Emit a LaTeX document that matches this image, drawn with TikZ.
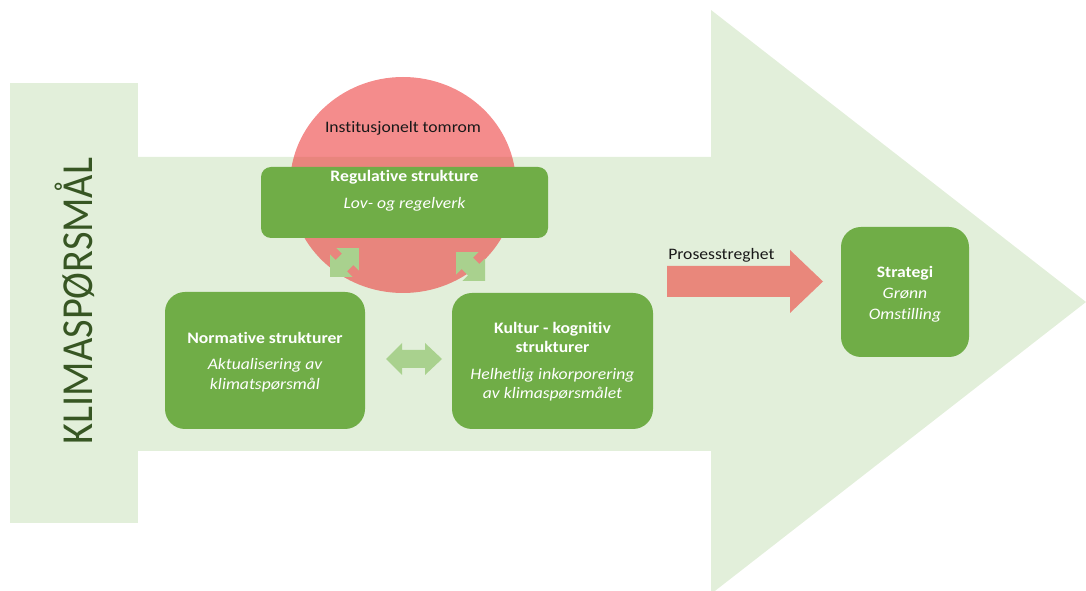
\documentclass[tikz,border=0pt]{standalone}
\usepackage{fontspec}
\setmainfont{Carlito}[FakeStretch=1.1, Ligatures=NoCommon]
\newfontfamily\klimafont{Carlito}
\definecolor{bandgreen}{HTML}{E2EFDA}
\definecolor{boxgreen}{HTML}{70AD47}
\definecolor{lightarrow}{HTML}{A9D18E}
\definecolor{circred}{RGB}{237,63,63}
\definecolor{darkgreen}{HTML}{375623}
\definecolor{salmon}{HTML}{E9877B}
\tikzset{
  gbox/.style={fill=boxgreen, draw=none, rectangle, inner sep=0pt},
  wtext/.style={text=white, align=center, font=\fontsize{12}{14.5}\selectfont, inner sep=0pt},
  btext/.style={text=black!90, font=\fontsize{12}{14.5}\selectfont, inner sep=0pt},
  lgarrow/.style={fill=lightarrow, draw=none},
}
\newcommand{\dblarrowshape}{(-20.5,0) -- (-4.5,-16) -- (-4.5,-8) -- (4.5,-8) -- (4.5,-16) -- (20.5,0) -- (4.5,16) -- (4.5,8) -- (-4.5,8) -- (-4.5,16) -- cycle}
\begin{document}
\begin{tikzpicture}[x=0.75pt,y=-0.75pt]
\useasboundingbox (0,0) rectangle (1086,591);
\begin{scope}
\clip (0,0) rectangle (1086,591);
% big arrow and left bar
\fill[bandgreen] (138,157) -- (711,157) -- (711,10) -- (1086,302) -- (711,594) -- (711,451) -- (138,451) -- cycle;
\fill[bandgreen] (10,83) rectangle (138,523);
\end{scope}
\node[rotate=90, anchor=base, text=darkgreen, font=\klimafont\fontsize{30.2}{36}\selectfont, inner sep=0pt] (klima) at (92,301) {\scalebox{1}[1.1]{KLIMASPØRSMÅL}};
% red circle
\fill[circred, opacity=0.6] (403,185) ellipse [x radius=113, y radius=108];
\node[btext] (tomrom) at (403,128) {Institusjonelt tomrom};
% boxes
\node[gbox, rounded corners=7.5pt, minimum width=215.25pt, minimum height=53.25pt] (reg) at (404.5,202.5) {};
\node[wtext] (regt) at (404.5,177) {\bfseries Regulative strukture};
\node[wtext] (regi) at (404.5,204) {\itshape Lov- og regelverk};
\node[gbox, rounded corners=15pt, minimum width=150pt, minimum height=102.75pt] (norm) at (265,360.5) {};
\node[wtext] (normt) at (265,362) {\bfseries Normative strukturer\\[5.5pt]\itshape Aktualisering av\\\itshape klimatspørsmål};
\node[gbox, rounded corners=15pt, minimum width=150.75pt, minimum height=102pt] (kult) at (552.5,361) {};
\node[wtext] (kultt) at (552.5,362) {\bfseries Kultur - kognitiv\\\bfseries strukturer\\[5.5pt]\itshape Helhetlig inkorporering\\\itshape av klimaspørsmålet};
\node[gbox, rounded corners=15pt, minimum width=96pt, minimum height=97.5pt] (strat) at (905,292) {};
\node[wtext, font=\fontsize{12}{15.75}\selectfont] (stratt) at (905,294.5) {\bfseries Strategi\\\itshape Grønn\\\itshape Omstilling};
% small double arrows
\coordinate (al) at (344.5,262.5);
\coordinate (ar) at (470.5,266.5);
\coordinate (ah) at (413.5,359);
\begin{scope}[shift={(al)}, rotate=45]
\fill[lgarrow] \dblarrowshape;
\end{scope}
\begin{scope}[shift={(ar)}, rotate=-45]
\fill[lgarrow] \dblarrowshape;
\end{scope}
\fill[lgarrow] ([xshift=-20.625pt]ah) -- ++(16,-16) -- ++(0,7) -- ++(23,0) -- ++(0,-7) -- ++(17,16) -- ++(-17,16) -- ++(0,-7) -- ++(-23,0) -- ++(0,7) -- cycle;
% prosesstreghet arrow
\coordinate (ps) at (667,281.5);
\fill[salmon] ([yshift=11.625pt]ps) -- ++(123,0) -- ++(0,-16) -- ++(33,31.5) -- ++(-33,31.5) -- ++(0,-16) -- ++(-123,0) -- cycle;
\node[btext, anchor=west] (prot) at (668,255) {Prosesstreghet};
\end{tikzpicture}
\end{document}
